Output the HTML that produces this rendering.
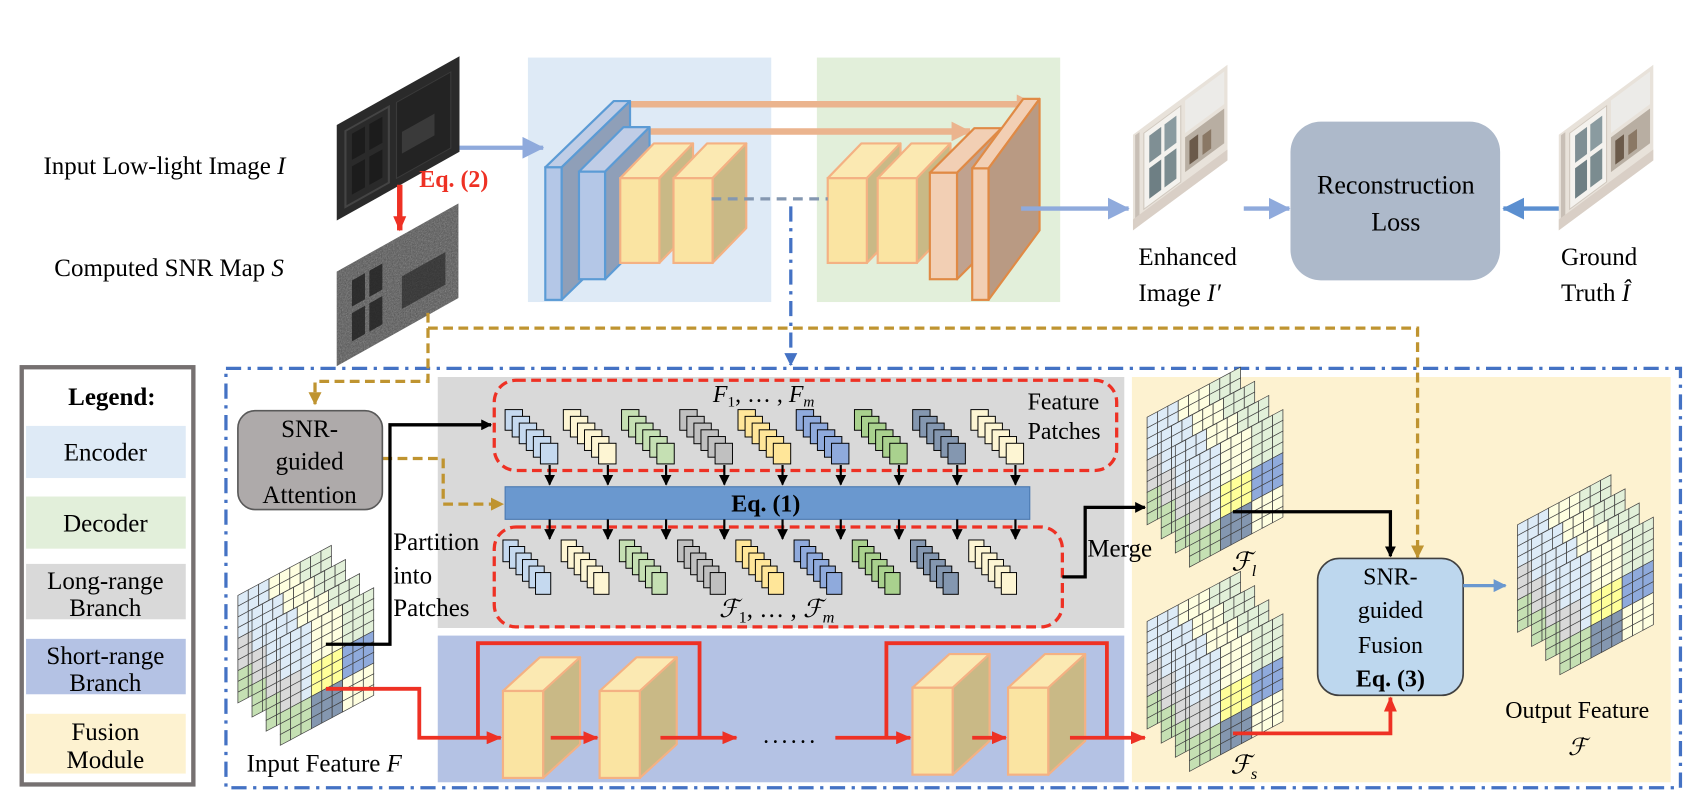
<!DOCTYPE html>
<html><head><meta charset="utf-8"><style>
html,body{margin:0;padding:0;background:#fff;width:1700px;height:804px;overflow:hidden}
svg{display:block;font-family:"Liberation Serif","Times New Roman","DejaVu Serif",serif}
svg text{font-family:"Liberation Serif","Times New Roman","DejaVu Serif",serif}
</style></head><body>
<svg id="s" width="1700" height="804" viewBox="0 0 1565 740" preserveAspectRatio="none" xmlns="http://www.w3.org/2000/svg" font-family="Liberation Serif, serif">
<defs>
<marker id="mB" markerWidth="10" markerHeight="10" refX="9" refY="5" orient="auto" markerUnits="userSpaceOnUse"><path d="M0,0 L10,5 L0,10z" fill="#000"/></marker>
<marker id="mR" markerWidth="14" markerHeight="12" refX="13" refY="6" orient="auto" markerUnits="userSpaceOnUse"><path d="M0,0 L14,6 L0,12z" fill="#ee3124"/></marker>
<marker id="mG" markerWidth="12" markerHeight="12" refX="11" refY="6" orient="auto" markerUnits="userSpaceOnUse"><path d="M0,0 L12,6 L0,12z" fill="#bf9430"/></marker>
<marker id="mL" markerWidth="20" markerHeight="20" refX="19" refY="10" orient="auto" markerUnits="userSpaceOnUse"><path d="M0,0 L20,10 L0,20z" fill="#8faadc"/></marker>
<marker id="mL2" markerWidth="20" markerHeight="20" refX="19" refY="10" orient="auto" markerUnits="userSpaceOnUse"><path d="M0,0 L20,10 L0,20z" fill="#5b8fd0"/></marker>
<marker id="mO" markerWidth="18" markerHeight="18" refX="17" refY="9" orient="auto" markerUnits="userSpaceOnUse"><path d="M0,0 L18,9 L0,18z" fill="#ebb48e"/></marker>
<marker id="mD" markerWidth="12" markerHeight="12" refX="11" refY="6" orient="auto" markerUnits="userSpaceOnUse"><path d="M0,0 L12,6 L0,12z" fill="#4472c4"/></marker>
<marker id="mS" markerWidth="12" markerHeight="12" refX="11" refY="6" orient="auto" markerUnits="userSpaceOnUse"><path d="M0,0 L12,6 L0,12z" fill="#6a98cf"/></marker>
<filter id="noise"><feTurbulence type="fractalNoise" baseFrequency="0.9" numOctaves="1" result="n"/><feColorMatrix type="saturate" values="0"/><feComponentTransfer><feFuncA type="linear" slope="0.6"/></feComponentTransfer><feComposite in2="SourceGraphic" operator="in"/></filter>
</defs>

<rect x="486" y="53" width="224" height="225" fill="#deeaf6"/>
<rect x="752" y="53" width="224" height="225" fill="#e2efda"/>

<g transform="matrix(1,-0.56,0,1,310,115)">
<rect x="0" y="0" width="113" height="88" fill="#2a2a2a"/>
<rect x="8" y="10" width="40" height="70" fill="none" stroke="#444" stroke-width="2"/>
<rect x="14" y="16" width="12" height="24" fill="#1c1c1c"/><rect x="30" y="16" width="12" height="24" fill="#1c1c1c"/>
<rect x="14" y="46" width="12" height="26" fill="#1c1c1c"/><rect x="30" y="46" width="12" height="26" fill="#1c1c1c"/>
<rect x="55" y="10" width="50" height="70" fill="#232323" stroke="#3a3a3a"/>
<rect x="60" y="40" width="30" height="20" fill="#3a3a3a"/>
</g>
<g transform="matrix(1,-0.56,0,1,310,250)">
<rect x="0" y="0" width="112" height="87" fill="#4a4a4a"/>
<rect x="0" y="0" width="112" height="87" fill="#9a9a9a" filter="url(#noise)"/>
<rect x="14" y="16" width="12" height="24" fill="#1e1e1e" opacity="0.8"/><rect x="30" y="16" width="12" height="24" fill="#1e1e1e" opacity="0.8"/>
<rect x="14" y="46" width="12" height="26" fill="#1e1e1e" opacity="0.8"/><rect x="30" y="46" width="12" height="26" fill="#1e1e1e" opacity="0.8"/>
<rect x="60" y="38" width="40" height="30" fill="#1e1e1e" opacity="0.6"/>
</g>

<text x="40" y="160" font-size="23">Input Low-light Image <tspan font-style="italic">I</tspan></text>
<text x="50" y="254" font-size="23">Computed SNR Map <tspan font-style="italic">S</tspan></text>
<line x1="368" y1="170" x2="368" y2="212" stroke="#ee3124" stroke-width="5" marker-end="url(#mR)"/>
<text x="386" y="172" font-size="22" font-weight="bold" fill="#ee3124">Eq. (2)</text>

<line x1="423" y1="136" x2="500" y2="136" stroke="#8faadc" stroke-width="4" marker-end="url(#mL)"/>

<line x1="579" y1="96" x2="953" y2="96" stroke="#ebb48e" stroke-width="6" marker-end="url(#mO)"/>
<line x1="598" y1="121" x2="893" y2="121" stroke="#ebb48e" stroke-width="6" marker-end="url(#mO)"/>

<g id="unet"></g>

<line x1="655" y1="183" x2="762" y2="183" stroke="#8497b0" stroke-width="3" stroke-dasharray="9,6"/>

<g id="imgs"></g>
<line x1="940" y1="192" x2="1039" y2="192" stroke="#8faadc" stroke-width="4" marker-end="url(#mL)"/>
<line x1="1145" y1="192" x2="1187" y2="192" stroke="#8faadc" stroke-width="4" marker-end="url(#mL)"/>
<line x1="1435" y1="192" x2="1384" y2="192" stroke="#5b8fd0" stroke-width="4" marker-end="url(#mL2)"/>
<rect x="1188" y="112" width="193" height="146" rx="28" fill="#adb9ca"/>
<text x="1285" y="178" font-size="24" text-anchor="middle">Reconstruction</text>
<text x="1285" y="212" font-size="24" text-anchor="middle">Loss</text>
<text x="1048" y="244" font-size="23">Enhanced</text>
<text x="1048" y="277" font-size="23">Image <tspan font-style="italic">I′</tspan></text>
<text x="1437" y="244" font-size="23">Ground</text>
<text x="1437" y="277" font-size="23">Truth <tspan font-style="italic">Î</tspan></text>

<rect x="20" y="338" width="158" height="384" fill="#fff" stroke="#767171" stroke-width="4"/>
<text x="103" y="373" font-size="23" font-weight="bold" text-anchor="middle">Legend:</text>
<rect x="24" y="392" width="147" height="48" fill="#deeaf6"/>
<text x="97" y="424" font-size="23" text-anchor="middle">Encoder</text>
<rect x="24" y="457" width="147" height="48" fill="#e2efda"/>
<text x="97" y="489" font-size="23" text-anchor="middle">Decoder</text>
<rect x="24" y="519" width="147" height="51" fill="#d9d9d9"/>
<text x="97" y="542" font-size="23" text-anchor="middle">Long-range</text>
<text x="97" y="567" font-size="23" text-anchor="middle">Branch</text>
<rect x="24" y="588" width="147" height="51" fill="#b4c2e4"/>
<text x="97" y="611" font-size="23" text-anchor="middle">Short-range</text>
<text x="97" y="636" font-size="23" text-anchor="middle">Branch</text>
<rect x="24" y="657" width="147" height="55" fill="#fdf2d0"/>
<text x="97" y="681" font-size="23" text-anchor="middle">Fusion</text>
<text x="97" y="707" font-size="23" text-anchor="middle">Module</text>

<rect x="403" y="347" width="632" height="231" fill="#d9d9d9"/>
<rect x="403" y="585" width="632" height="135" fill="#b4c2e4"/>
<rect x="1042" y="347" width="496" height="373" fill="#fdf2d0"/>

<rect x="208" y="339" width="1339" height="386" fill="none" stroke="#4472c4" stroke-width="3" stroke-dasharray="14,6,3,6"/>
<line x1="728" y1="190" x2="728" y2="336" stroke="#4472c4" stroke-width="3" stroke-dasharray="14,6,3,6" marker-end="url(#mD)"/>

<path d="M394,288 L394,351 L290,351 L290,372" fill="none" stroke="#bf9430" stroke-width="3" stroke-dasharray="9,5" marker-end="url(#mG)"/>
<path d="M394,302 L1305,302 L1305,513" fill="none" stroke="#bf9430" stroke-width="3" stroke-dasharray="9,5" marker-end="url(#mG)"/>
<path d="M352,422 L408,422 L408,464 L463,464" fill="none" stroke="#bf9430" stroke-width="3" stroke-dasharray="9,5" marker-end="url(#mG)"/>

<rect x="219" y="378" width="133" height="91" rx="16" fill="#aeaaaa" stroke="#595959" stroke-width="1.5"/>
<text x="285" y="402" font-size="23" text-anchor="middle">SNR-</text>
<text x="285" y="432" font-size="23" text-anchor="middle">guided</text>
<text x="285" y="463" font-size="23" text-anchor="middle">Attention</text>

<rect x="455" y="350" width="573" height="83" rx="20" fill="none" stroke="#ee3124" stroke-width="3" stroke-dasharray="9,5"/>
<rect x="455" y="485" width="523" height="92" rx="20" fill="none" stroke="#ee3124" stroke-width="3" stroke-dasharray="9,5"/>
<text x="703" y="370" font-size="22" text-anchor="middle" font-style="italic">F<tspan font-size="14" dy="4" font-style="normal">1</tspan><tspan dy="-4" font-style="normal">, … ,</tspan> F<tspan font-size="14" dy="4">m</tspan></text>
<text x="946" y="377" font-size="22">Feature</text>
<text x="946" y="404" font-size="22">Patches</text>
<text x="715" y="568" font-size="23" text-anchor="middle" font-style="italic">ℱ<tspan font-size="15" dy="5" font-style="normal">1</tspan><tspan dy="-5" font-style="normal">, … ,</tspan> ℱ<tspan font-size="15" dy="5">m</tspan></text>

<rect x="465" y="448" width="483" height="30" fill="#6a98cf" stroke="#4a78b0"/>
<text x="705" y="471" font-size="22" font-weight="bold" text-anchor="middle">Eq. (1)</text>

<g id="stacks"></g>

<text x="362" y="506" font-size="23">Partition</text>
<text x="362" y="537" font-size="23">into</text>
<text x="362" y="567" font-size="23">Patches</text>

<g id="grids"></g>

<path d="M300,593 L359,593 L359,391 L452,391" fill="none" stroke="#000" stroke-width="3" marker-end="url(#mB)"/>
<path d="M978,531 L999,531 L999,467 L1054,467" fill="none" stroke="#000" stroke-width="3" marker-end="url(#mB)"/>
<text x="1001" y="512" font-size="23">Merge</text>
<path d="M1135,471 L1280,471 L1280,512" fill="none" stroke="#000" stroke-width="3" marker-end="url(#mB)"/>

<g id="short"></g>
<path d="M300,634 L386,634 L386,679 L461,679" fill="none" stroke="#ee3124" stroke-width="3.5" marker-end="url(#mR)"/>
<path d="M440,679 L440,592 L644,592 L644,679" fill="none" stroke="#ee3124" stroke-width="3.5"/>
<path d="M816,679 L816,592 L1019,592 L1019,679" fill="none" stroke="#ee3124" stroke-width="3.5"/>
<line x1="507" y1="679" x2="550" y2="679" stroke="#ee3124" stroke-width="3.5" marker-end="url(#mR)"/>
<line x1="608" y1="679" x2="678" y2="679" stroke="#ee3124" stroke-width="3.5" marker-end="url(#mR)"/>
<text x="728" y="684" font-size="22" text-anchor="middle" letter-spacing="3">......</text>
<line x1="769" y1="679" x2="838" y2="679" stroke="#ee3124" stroke-width="3.5" marker-end="url(#mR)"/>
<line x1="895" y1="679" x2="926" y2="679" stroke="#ee3124" stroke-width="3.5" marker-end="url(#mR)"/>
<line x1="985" y1="679" x2="1054" y2="679" stroke="#ee3124" stroke-width="3.5" marker-end="url(#mR)"/>
<path d="M1135,675 L1280,675 L1280,642" fill="none" stroke="#ee3124" stroke-width="3.5" marker-end="url(#mR)"/>

<rect x="1213" y="514" width="134" height="126" rx="20" fill="#bdd7ee" stroke="#404040" stroke-width="1.5"/>
<text x="1280" y="538" font-size="22" text-anchor="middle">SNR-</text>
<text x="1280" y="569" font-size="22" text-anchor="middle">guided</text>
<text x="1280" y="601" font-size="22" text-anchor="middle">Fusion</text>
<text x="1280" y="632" font-size="22" font-weight="bold" text-anchor="middle">Eq. (3)</text>
<line x1="1347" y1="539" x2="1386" y2="539" stroke="#6a98cf" stroke-width="3" marker-end="url(#mS)"/>
<text x="1145" y="525" font-size="24" font-style="italic" text-anchor="middle">ℱ<tspan font-size="15" dy="5">l</tspan></text>
<text x="1145" y="712" font-size="24" font-style="italic" text-anchor="middle">ℱ<tspan font-size="15" dy="5">s</tspan></text>
<text x="227" y="710" font-size="23">Input Feature <tspan font-style="italic">F</tspan></text>
<text x="1452" y="661" font-size="22" text-anchor="middle">Output Feature</text>
<text x="1452" y="695" font-size="22" font-style="italic" text-anchor="middle">ℱ</text>
</svg>
<script>
var NS="http://www.w3.org/2000/svg";
function el(p,t,a){var e=document.createElementNS(NS,t);for(var k in a)e.setAttribute(k,a[k]);p.appendChild(e);return e;}
function cube(p,x,y,w,h,dx,dy,cf,cs,ct,st,sw){
 el(p,"polygon",{points:[x,y,x+dx,y+dy,x+w+dx,y+dy,x+w,y].join(","),fill:ct,stroke:st,"stroke-width":sw,"stroke-linejoin":"round"});
 el(p,"polygon",{points:[x+w,y,x+w+dx,y+dy,x+w+dx,y+h+dy,x+w,y+h].join(","),fill:cs,stroke:st,"stroke-width":sw,"stroke-linejoin":"round"});
 el(p,"rect",{x:x,y:y,width:w,height:h,fill:cf,stroke:st,"stroke-width":sw});
}
var u=document.getElementById("unet");
cube(u,502,154,15,122,63,-61,"#b4c7e7","#8f9fb8","#c0cde6","#5b9bd5",2);
cube(u,533,158,24,99,41,-41,"#b4c7e7","#8f9fb8","#c0cde6","#5b9bd5",2);
[571,620,762,808].forEach(function(x){cube(u,x,164,36,78,31,-32,"#fae4a2","#c9b986","#fbe9b2","#f4b183",2);});
cube(u,856,159,25,98,41,-41,"#f2cfb4","#c0a28f","#f2cfb4","#e08a45",2);
cube(u,895,155,15,121,47,-64,"#f2cfb4","#b99a83","#f2cfb4","#e08a45",2);
var s=document.getElementById("short");
[[463,636,716],[552,636,716],[840,633,713],[928,633,713]].forEach(function(b){cube(s,b[0],b[1],37,b[2]-b[1],34,-31,"#fae4a2","#c9b986","#fbe9b2","#f4b183",2);});
var im=document.getElementById("imgs");
[1043,1435].forEach(function(x){
 var g=el(im,"g",{transform:"matrix(1,-0.74,0,1,"+x+",124)"});
 el(g,"rect",{x:0,y:0,width:87,height:88,fill:"#e8e2da"});
 el(g,"rect",{x:2,y:2,width:4,height:84,fill:"#c8bfb6"});
 el(g,"rect",{x:10,y:6,width:34,height:70,fill:"#f4f2ee",stroke:"#d0c8be"});
 el(g,"rect",{x:15,y:12,width:11,height:25,fill:"#7f8f94"});el(g,"rect",{x:29,y:12,width:11,height:25,fill:"#8a9ba0"});
 el(g,"rect",{x:15,y:42,width:11,height:28,fill:"#6e7f84"});el(g,"rect",{x:29,y:42,width:11,height:28,fill:"#7b8c90"});
 el(g,"rect",{x:48,y:4,width:36,height:30,fill:"#ecebe8"});
 el(g,"rect",{x:48,y:38,width:36,height:32,fill:"#b8aea2"});
 el(g,"rect",{x:52,y:44,width:8,height:22,fill:"#6b5a4a"});el(g,"rect",{x:64,y:48,width:8,height:18,fill:"#8a7865"});
 el(g,"rect",{x:0,y:78,width:87,height:10,fill:"#d9cfc6"});
});
var st=document.getElementById("stacks");
var cols=["#c5d9ef","#fdf5d3","#c5e0b3","#c0c0c0","#ffe699","#8faadc","#a9d18e","#8497b0","#fdf5d3"];
for(var i=0;i<9;i++){
 var x0=465+53.6*i;
 for(var j=0;j<6;j++) el(st,"rect",{x:x0+6.5*j,y:377+6.2*j,width:16,height:19,fill:cols[i],stroke:"#000","stroke-width":0.9});
 var ax=x0+41;
 el(st,"line",{x1:ax,y1:428,x2:ax,y2:446,stroke:"#000","stroke-width":2,"marker-end":"url(#mB)"});
 el(st,"line",{x1:ax,y1:478,x2:ax,y2:496,stroke:"#000","stroke-width":2,"marker-end":"url(#mB)"});
 var bx=x0-2;
 for(var j=0;j<6;j++) el(st,"rect",{x:bx+6*j,y:497+6*j,width:14,height:20,fill:cols[i],stroke:"#000","stroke-width":0.9});
}
var gr=document.getElementById("grids");
function cellColor(s,c,r,front){
 if(r<4){ if(c<3) return "#ddebf7"; if(c<6) return "#fefee0"; return "#e2f0d9";}
 if(r<7){ if(c<2) return "#d9d9d9"; if(c<3) return "#ddebf7";
   if(front){ if(c<6) return "#ffff99"; return "#8faadc";} return (c<6?"#ddebf7":"#fefee0");}
 if(c<3) return "#c5e0b3";
 if(front){ if(c<6) return "#8497b0"; return "#fefee0";}
 return "#d9d9d9";
}
function grid(x,y){
 for(var sh=0;sh<4;sh++){
  var g=el(gr,"g",{transform:"matrix(1,-0.535,0,1,"+(x+13*sh)+","+(y+13*sh)+")"});
  for(var c=0;c<9;c++)for(var r=0;r<10;r++)
   el(g,"rect",{x:c*9.56,y:r*9.9,width:9.56,height:9.9,fill:cellColor(sh,c,r,sh==3),stroke:"#404040","stroke-width":0.7});
 }
}
grid(219,548); grid(1056,384); grid(1056,572); grid(1397,483);
</script>
</body></html>
